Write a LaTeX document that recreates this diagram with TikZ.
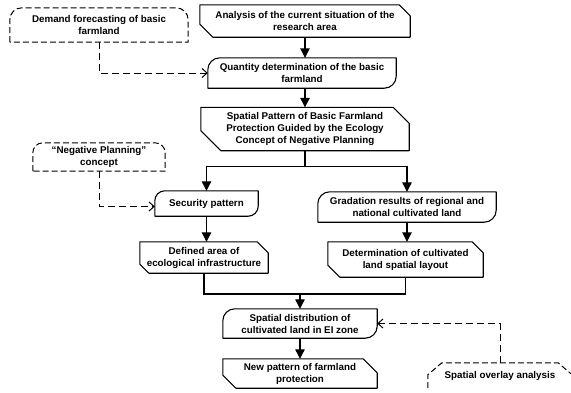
\documentclass[tikz,border=0pt]{standalone}
\usepackage{fontspec}
\setmainfont{Liberation Sans}
\usetikzlibrary{arrows.meta,calc}
\tikzset{
  txt/.style={inner sep=0pt, align=center, font=\fontsize{9.8}{12}\selectfont\bfseries},
  boxline/.style={draw=black, line width=1.1pt, line join=round},
  dboxline/.style={draw=black, line width=1pt, dash pattern=on 6pt off 3pt},
  arr/.style={draw=black, line width=1.1pt, -{Triangle[width=9.5pt,length=9.5pt]}},
  plain/.style={draw=black, line width=1.1pt},
  darr/.style={draw=black, line width=1pt, dash pattern=on 7pt off 4pt, -{Straight Barb[length=5pt,width=9pt]}},
}
% hexagon-like card: top-right and bottom-left corners cut
\newcommand\cutframe[3]{%
  \draw[boxline] (#1.north west) -- ([xshift=-#2pt]#1.north east) -- ([yshift=-#2pt]#1.north east)
   -- (#1.south east) -- ([xshift=#3pt]#1.south west) -- ([yshift=#3pt]#1.south west) -- cycle;}
% rounded top-left and bottom-right corners
\newcommand\rndframe[2]{%
  \draw[boxline] (#1.south west) -- ([yshift=-#2pt]#1.north west) to[out=90,in=180] ([xshift=#2pt]#1.north west)
   -- (#1.north east) -- ([yshift=#2pt]#1.south east) to[out=-90,in=0] ([xshift=-#2pt]#1.south east) -- cycle;}
% dashed, rounded top corners
\newcommand\dtopframe[2]{%
  \draw[dboxline] (#1.south west) -- ([yshift=-#2pt]#1.north west) to[out=90,in=180] ([xshift=#2pt]#1.north west)
   -- ([xshift=-#2pt]#1.north east) to[out=0,in=90] ([yshift=-#2pt]#1.north east) -- (#1.south east) -- cycle;}
\begin{document}
\begin{tikzpicture}[x=1pt,y=-1pt]
\useasboundingbox (0,0) rectangle (571,392);

% nodes (box size = minimum width/height)
\node[txt, minimum width=178pt, minimum height=34pt] (dem) at (99,25) {Demand forecasting of basic\\farmland};
\node[txt, minimum width=210pt, minimum height=32pt] (ana) at (305,21) {Analysis of the current situation of the\\research area};
\node[txt, minimum width=188pt, minimum height=30pt] (qty) at (302,73) {Quantity determination of the basic\\farmland};
\node[txt, minimum width=208pt, minimum height=43pt] (sp) at (305,129) {Spatial Pattern of Basic Farmland\\Protection Guided by the Ecology\\Concept of Negative Planning};
\node[txt, minimum width=132pt, minimum height=28pt] (neg) at (99,157) {“Negative Planning”\\concept};
\node[txt, minimum width=103pt, minimum height=25pt] (sec) at (206.5,203.5) {Security pattern};
\node[txt, minimum width=178pt, minimum height=30pt] (gra) at (407,207) {Gradation results of regional and\\national cultivated land};
\node[txt, minimum width=128pt, minimum height=31pt] (def) at (204,257.5) {Defined area of\\ecological infrastructure};
\node[txt, minimum width=155pt, minimum height=35pt] (det) at (405.5,259.5) {Determination of cultivated\\land spatial layout};
\node[txt, minimum width=154pt, minimum height=29pt] (dist) at (300,323.5) {Spatial distribution of\\cultivated land in EI zone};
\node[txt, minimum width=154pt, minimum height=29pt] (new) at (300,373.5) {New pattern of farmland\\protection};
\node[txt, minimum width=144pt, minimum height=25pt] (ovl) at (500,375.5) {Spatial overlay analysis};

% frames
\dtopframe{dem}{12}
\cutframe{ana}{11}{13}
\rndframe{qty}{12}
\cutframe{sp}{16}{20}
\dtopframe{neg}{10}
\rndframe{sec}{10}
\rndframe{gra}{12}
\cutframe{def}{11}{9}
\cutframe{det}{11}{12}
\rndframe{dist}{12}
\cutframe{new}{14}{13}
\draw[dboxline] (ovl.south west) -- ([yshift=-12pt]ovl.north west) -- ([xshift=14pt]ovl.north west)
  -- ([xshift=-14pt]ovl.north east) -- ([yshift=-12pt]ovl.north east) -- (ovl.south east);

% solid connectors
\draw[arr] (ana.south) -- (ana.south |- qty.north);
\draw[arr] (ana.south |- qty.south) -- (ana.south |- sp.north);
\coordinate (split) at ($(sp.south)+(0,16)$);
\draw[arr] (sp.south) -- (split) -| (sec.north);
\draw[arr] (split) -| (gra.north);
\draw[arr] (sec.south) -- (sec.south |- def.north);
\draw[arr] (gra.south) -- (gra.south |- det.north);
\coordinate (merge) at (dist.north |- 0,294);
\draw[plain] (def.south) |- (merge) -| (det.south);
\draw[arr] (merge) -- (dist.north);
\draw[arr] (dist.south) -- (new.north);

% dashed connectors
\draw[darr] (dem.south) |- (qty.west);
\draw[darr] (neg.south) |- ([yshift=-3pt]sec.west);
\draw[darr] (ovl.north) |- (dist.east);
\end{tikzpicture}
\end{document}
